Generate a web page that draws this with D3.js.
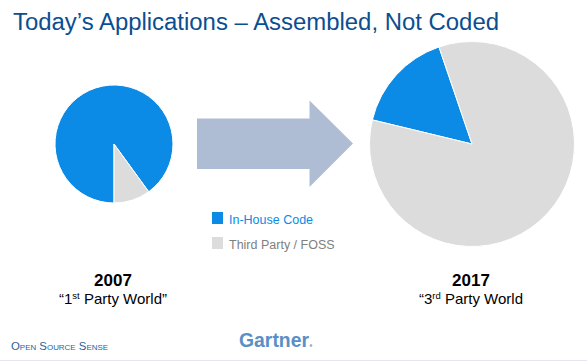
<!DOCTYPE html>
<html>
<head>
<meta charset="utf-8">
<script src="https://d3js.org/d3.v7.min.js"></script>
<style>
  body { margin: 0; background: #fff; }
  svg { font-family: "Liberation Sans", Arial, sans-serif; display: block; }
</style>
</head>
<body>
<svg id="chart" width="587" height="362"></svg>
<script>
// data
var categories = ["In-House Code", "Third Party / FOSS"];
var colors = ["#0B8AE6", "#DCDCDC"];
var years = ["2007", "2017"];
var captions = [["“1", "st", " Party World”"], ["“3", "rd", " Party World"]];
var share2007 = [90, 10];
var share2017 = [16, 84];

var svg = d3.select("#chart");

// title
svg.append("text")
  .attr("x", 13).attr("y", 30)
  .attr("fill", "#0B4E90")
  .style("font-size", "23.5px")
  .attr("textLength", 486).attr("lengthAdjust", "spacingAndGlyphs")
  .text("Today’s Applications – Assembled, Not Coded");

// pies
function drawPie(values, cx, cy, r, start) {
  var pie = d3.pie().sort(null)
    .startAngle(start).endAngle(start + 2 * Math.PI);
  var arc = d3.arc().innerRadius(0).outerRadius(r);
  var g = svg.append("g").attr("transform", "translate(" + cx + "," + cy + ")");
  g.selectAll("path").data(pie(values)).enter().append("path")
    .attr("d", arc)
    .attr("fill", function(d, i) { return colors[i]; })
    .attr("stroke", "#fff")
    .attr("stroke-width", 1);
}
drawPie(share2007, 114, 144, 59, Math.PI);
drawPie(share2017, 472, 144, 102.5, 283.6 * Math.PI / 180);

// arrow
svg.append("path")
  .attr("d", "M197,118.5 L309.5,118.5 L309.5,100.5 L353,143.5 L309.5,187 L309.5,169 L197,169 Z")
  .attr("fill", "#AFBDD4");

// legend
var leg = svg.append("g").selectAll("g").data(categories).enter().append("g")
  .attr("transform", function(d, i) { return "translate(212," + (212 + i * 25) + ")"; });
leg.append("rect").attr("width", 11).attr("height", 12)
  .attr("fill", function(d, i) { return colors[i]; });
leg.append("text").attr("x", 17).attr("y", 11.5)
  .style("font-size", "12.5px")
  .attr("fill", function(d, i) { return i == 0 ? "#0B8AE6" : "#808080"; })
  .text(function(d) { return d; });

// year labels
var xs = [113, 471];
years.forEach(function(y, i) {
  svg.append("text").attr("x", xs[i]).attr("y", 286)
    .attr("text-anchor", "middle")
    .style("font-size", "17px").style("font-weight", "bold")
    .attr("fill", "#000")
    .text(y);
  var t = svg.append("text").attr("x", xs[i]).attr("y", 304)
    .attr("text-anchor", "middle")
    .style("font-size", "15px").attr("fill", "#000");
  t.append("tspan").text(captions[i][0]);
  t.append("tspan").attr("dy", -5).style("font-size", "9.5px").text(captions[i][1]);
  t.append("tspan").attr("dy", 5).text(captions[i][2]);
});

// footer
svg.append("text").attr("x", 11).attr("y", 350)
  .attr("fill", "#2B5F97")
  .style("font-size", "11.5px").style("font-variant", "small-caps")
  .attr("textLength", 97).attr("lengthAdjust", "spacingAndGlyphs")
  .text("Open Source Sense");

svg.append("text").attr("x", 239).attr("y", 347)
  .style("font-size", "20px").style("font-weight", "bold")
  .attr("fill", "#5A8FC6")
  .attr("textLength", 70).attr("lengthAdjust", "spacingAndGlyphs")
  .text("Gartner");
svg.append("circle").attr("cx", 311).attr("cy", 345.5).attr("r", 1.3).attr("fill", "#8FA9C4");

svg.append("line").attr("x1", 0).attr("x2", 587).attr("y1", 360.5).attr("y2", 360.5)
  .attr("stroke", "#E4E8EE").attr("stroke-width", 1);
</script>
</body>
</html>
